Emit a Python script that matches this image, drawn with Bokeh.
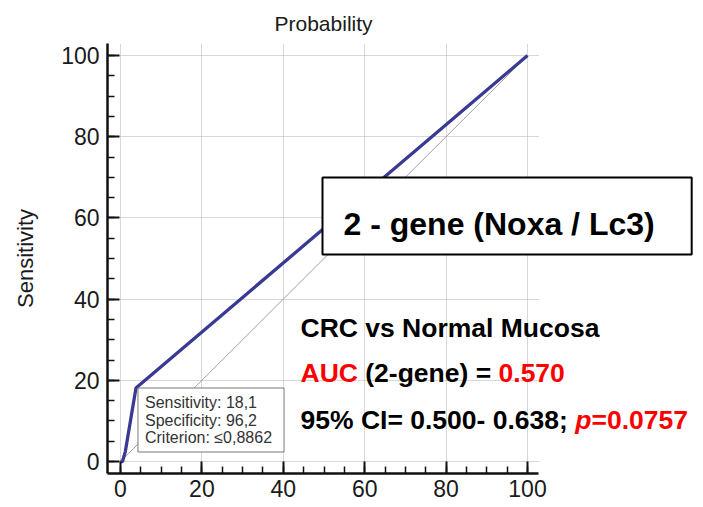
from bokeh.plotting import figure
from bokeh.models import Label, FixedTicker, Range1d
from bokeh.embed import file_html
from bokeh.resources import INLINE

# ---------------- data ----------------
fpr = [0, 0.5, 1.2, 3.8, 100]          # 100 - specificity
tpr = [0, 0, 2.5, 18.1, 100]           # sensitivity
diag_x = [0, 100]
diag_y = [0, 100]
major_ticks = [0, 20, 40, 60, 80, 100]
minor_ticks = list(range(0, 101, 5))
tooltip_lines = ["Sensitivity: 18,1", "Specificity: 96,2", "Criterion: \u22640,8862"]
box_title = "2 - gene (Noxa / Lc3)"
line1 = "CRC vs Normal Mucosa"
auc_parts = [("AUC", "red"), ("(2-gene) =", "black"), ("0.570", "red")]
ci_parts = [("95% CI= 0.500- 0.638;", "black"), ("p", "red"), ("=0.0757", "red")]

FONT = "Liberation Sans"
RED = "#fe0000"

# ---------------- geometry ----------------
W, H = 703, 507
FL, FT, FR, FB = 107, 43, 698, 473
PXX = 4.07                      # px per x unit
PXY = 4.06                      # px per y unit
X0 = -13 / PXX
X1 = X0 + (FR - FL) / PXX
XAX_END = X0 + (538 - FL) / PXX  # visible end of the axis / grid
Y0 = -12 / PXY
Y1 = Y0 + (FB - FT) / PXY


def px2x(px):
    return X0 + (px - FL) / PXX


def py2y(py):
    return Y1 - (py - FT) / PXY


# Arial/Liberation Sans Bold advance widths (per 1000 em)
BW = {' ': 278, '%': 889, '(': 333, ')': 333, '-': 333, '.': 278, '/': 278,
      ';': 333, '=': 584, 'A': 722, 'C': 722, 'I': 278, 'U': 722,
      'e': 556, 'g': 611, 'n': 611, 'p': 611}


def bw(s, size):
    return sum(BW.get(c, 556) for c in s) * size / 1000.0


p = figure(width=W, height=H, x_range=Range1d(X0, X1), y_range=Range1d(Y0, Y1),
           output_backend="svg", toolbar_location=None,
           min_border_left=FL, min_border_right=W - FR,
           min_border_top=FT, min_border_bottom=H - FB)
p.outline_line_color = None
p.background_fill_color = "white"
p.border_fill_color = "white"

p.title.text = "Probability"
p.title.align = "left"
p.title.offset = 274 - FL
p.title.text_font = FONT
p.title.text_font_size = "21px"
p.title.text_font_style = "normal"
p.title.text_color = "#1a1a1a"
p.title.standoff = 17

ticker = FixedTicker(ticks=major_ticks, minor_ticks=minor_ticks)
for ax in (p.xaxis[0], p.yaxis[0]):
    ax.ticker = ticker
    ax.axis_line_width = 2.5
    ax.axis_line_color = "#111111"
    ax.major_tick_line_color = "#111111"
    ax.major_tick_line_width = 2
    ax.major_tick_in = 12
    ax.major_tick_out = 0
    ax.minor_tick_line_color = "#111111"
    ax.minor_tick_line_width = 1.5
    ax.minor_tick_in = 7
    ax.minor_tick_out = 0
    ax.major_label_text_font = FONT
    ax.major_label_text_font_size = "23px"
    ax.major_label_text_color = "#1a1a1a"

p.xaxis.bounds = (X0, XAX_END)
p.xaxis.major_label_standoff = 6
p.yaxis.major_label_standoff = 8
p.yaxis.axis_label = "Sensitivity"
p.yaxis.axis_label_text_font = FONT
p.yaxis.axis_label_text_font_size = "22px"
p.yaxis.axis_label_text_font_style = "normal"
p.yaxis.axis_label_text_color = "#1a1a1a"
p.yaxis.axis_label_standoff = 20

for g in (p.xgrid[0], p.ygrid[0]):
    g.ticker = ticker
    g.grid_line_color = "#b0b0b0"
    g.grid_line_dash = "1 1"
    g.grid_line_width = 1
p.ygrid[0].cross_bounds = (X0, XAX_END)

p.line(diag_x, diag_y, line_color="#a0a0a0", line_width=1)
p.line(fpr, tpr, line_color="#3a3a94", line_width=3.3)

# ---------------- tooltip box anchored at the cut-off point ----------------
TS = "16px"
kx, ky = fpr[3], tpr[3]
# box drawn by the last (longest) line
p.add_layout(Label(x=kx, y=ky, x_offset=2, y_offset=0,
                   text=tooltip_lines[2], text_font=FONT, text_font_size=TS,
                   text_color="#333333", text_align="left", text_baseline="top",
                   background_fill_color="white", border_line_color="#777777",
                   border_line_width=1,
                   padding=dict(left=7, right=12, top=41, bottom=6)))
for i, yoff in enumerate([-5.5, -24]):
    p.add_layout(Label(x=kx, y=ky, x_offset=9, y_offset=yoff,
                       text=tooltip_lines[i], text_font=FONT, text_font_size=TS,
                       text_color="#333333", text_align="left", text_baseline="top"))

# ---------------- big title box ----------------
p.add_layout(Label(x=px2x(322), y=py2y(177), text=box_title, text_font=FONT,
                   text_font_size="32px", text_font_style="bold", text_color="black",
                   text_align="left", text_baseline="top",
                   background_fill_color="white", border_line_color="black",
                   border_line_width=2,
                   padding=dict(left=21, right=37, top=28, bottom=13)))

# ---------------- statistics text ----------------
SZ = 26.5
p.add_layout(Label(x=px2x(300), y=py2y(327), text=line1, text_font=FONT,
                   text_font_size=f"{SZ}px", text_font_style="bold",
                   text_color="black", text_align="left", text_baseline="alphabetic"))

x = 300
for t, c in auc_parts:
    p.add_layout(Label(x=px2x(x), y=py2y(372.5), text=t, text_font=FONT,
                       text_font_size=f"{SZ}px", text_font_style="bold",
                       text_color=RED if c == "red" else "black",
                       text_align="left", text_baseline="alphabetic"))
    x += bw(t + " ", SZ)

x = 300
for i, (t, c) in enumerate(ci_parts):
    style = "bold italic" if t == "p" else "bold"
    p.add_layout(Label(x=px2x(x), y=py2y(419), text=t, text_font=FONT,
                       text_font_size=f"{SZ}px", text_font_style=style,
                       text_color=RED if c == "red" else "black",
                       text_align="left", text_baseline="alphabetic"))
    x += bw(t + (" " if i == 0 else ""), SZ)

open("out.html", "w").write(file_html(p, INLINE))
